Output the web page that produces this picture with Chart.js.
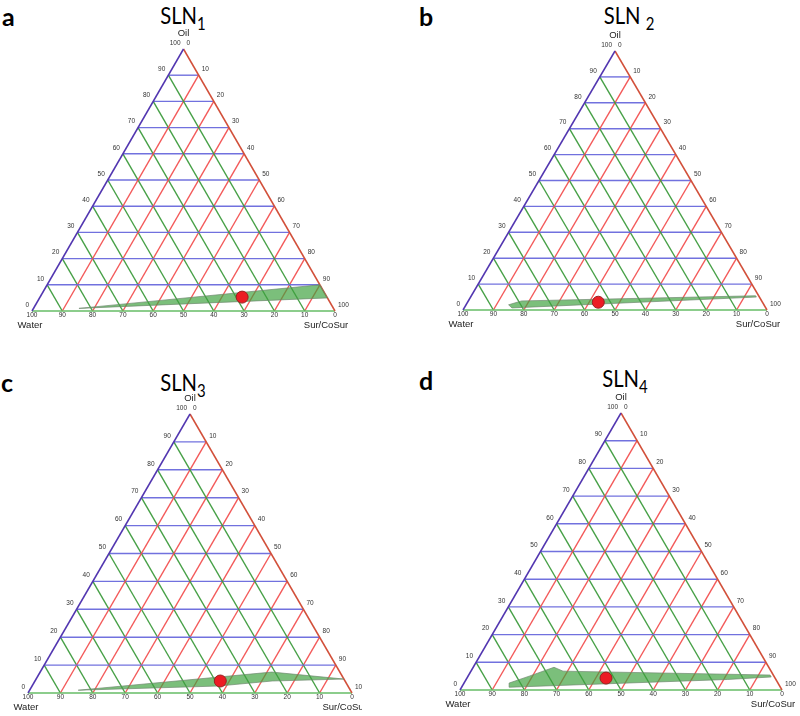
<!DOCTYPE html>
<html>
<head>
<meta charset="utf-8">
<script src="https://cdn.jsdelivr.net/npm/chart.js@4.4.1/dist/chart.umd.min.js"></script>
<style>
  html, body { margin: 0; padding: 0; background: #fff; }
  body { width: 800px; height: 716px; position: relative; overflow: hidden; }
  .panel { position: absolute; }
  .letter { position: absolute; font-family: Lato, "Open Sans", sans-serif; font-weight: 700; font-size: 25px; line-height: 1; color: #000; }
  .title { position: absolute; font-family: Lato, "Open Sans", sans-serif; font-size: 23px; line-height: 1; color: #000; transform: translateX(-50%) scaleX(0.88); white-space: nowrap; }
  .title sub { font-size: 17px; vertical-align: -6px; }
</style>
</head>
<body>

<div class="letter" style="left:2px; top:4px;">a</div>
<div class="letter" style="left:419px; top:4px;">b</div>
<div class="letter" style="left:1px; top:370px;">c</div>
<div class="letter" style="left:419px; top:368px;">d</div>

<div class="title" style="left:183px; top:4px;">SLN<sub>1</sub></div>
<div class="title" style="left:629px; top:4px;">SLN <sub>2</sub></div>
<div class="title" style="left:183px; top:371px;">SLN<sub>3</sub></div>
<div class="title" style="left:625px; top:367px;">SLN<sub>4</sub></div>

<div class="panel" id="boxA" style="left:0; top:0; width:400px; height:330px;"><canvas id="chartA"></canvas></div>
<div class="panel" id="boxB" style="left:400px; top:0; width:400px; height:330px;"><canvas id="chartB"></canvas></div>
<div class="panel" id="boxC" style="left:0; top:330px; width:362px; height:386px;"><canvas id="chartC"></canvas></div>
<div class="panel" id="boxD" style="left:400px; top:330px; width:400px; height:386px;"><canvas id="chartD"></canvas></div>

<script>
// Tick values on each side of the triangles (percent)
const TICKS = [0, 10, 20, 30, 40, 50, 60, 70, 80, 90, 100];
const GRID_STEPS = [10, 20, 30, 40, 50, 60, 70, 80, 90];

// Axis titles
const TOP_TITLE = 'Oil';
const LEFT_TITLE = 'Water';
const RIGHT_TITLES = ['Sur/CoSur', 'Sur/CoSur', 'Sur/CoSu', 'Sur/CoSur'];

// Nanoemulsion regions, as [water, oil, sur/cosur] in percent
const regionA = [[84, 1, 15], [0, 10, 90], [0, 5, 95], [84, 1, 15]];
const regionB = [[84, 2, 14], [79, 3.5, 17.5], [1, 5.5, 93.5], [1, 5, 94], [83.5, 0.8, 15.7], [84, 2, 14]];
const regionC = [[84, 1, 15], [21, 7.5, 71.5], [0, 5, 95], [22.5, 4.3, 73.2], [40, 2.5, 57.5], [84, 1, 15]];
const regionD = [[84, 1, 15], [83.5, 2.5, 14], [76, 5, 19], [66.7, 8.2, 25.1], [64.6, 6.8, 28.6], [1, 5.4, 93.6], [1, 4.7, 94.3], [15, 3.8, 81.2], [84, 1, 15]];

// Selected formulations [water, oil, sur/cosur]
const pointA = [28, 5.3, 66.7];
const pointB = [54, 3, 43];
const pointC = [38.5, 4.3, 57.2];
const pointD = [52.5, 4.3, 43.2];

const H = Math.sqrt(3) / 2;

// Colors
const BLUE_GRID = 'rgba(105, 105, 220, 0.95)';
const GREEN_GRID = 'rgba(60, 155, 60, 0.95)';
const RED_GRID = 'rgba(242, 80, 80, 0.95)';
const LEFT_EDGE = '#5236b0';
const RIGHT_EDGE = '#d2503a';
const BOTTOM_EDGE = '#66bd66';

/**
 * Convert a ternary composition [water, oil, sur] into plot x/y
 */
function toXY(c) {
    const oil = c[1] / 100;
    const sur = c[2] / 100;
    return { x: sur + oil / 2, y: oil * H };
}

function lineSet(points, color, width, order) {
    return {
        data: points.map(toXY),
        showLine: true,
        borderColor: color,
        borderWidth: width,
        pointRadius: 0,
        fill: false,
        clip: 12,
        order: order
    };
}

// Draws tick labels and axis titles around the triangle
const ternaryLabels = {
    id: 'ternaryLabels',
    afterDatasetsDraw(chart, args, opts) {
        const { ctx, scales } = chart;
        const px = c => {
            const p = toXY(c);
            return { x: scales.x.getPixelForValue(p.x), y: scales.y.getPixelForValue(p.y) };
        };
        ctx.save();
        ctx.fillStyle = '#333';
        ctx.font = '6.5px "Liberation Sans", Arial, sans-serif';
        ctx.textBaseline = 'middle';

        // left side: oil 0 (bottom) .. 100 (top)
        ctx.textAlign = 'right';
        TICKS.forEach(v => {
            const p = px([100 - v, v, 0]);
            ctx.fillText(String(v), p.x - 3, p.y - 6);
        });
        // right side: sur 0 (top) .. 100 (bottom)
        ctx.textAlign = 'left';
        TICKS.forEach(v => {
            const p = px([0, 100 - v, v]);
            ctx.fillText(String(v), p.x + 3, p.y - 6);
        });
        // bottom: water 100 (left) .. 0 (right)
        ctx.textAlign = 'center';
        ctx.textBaseline = 'top';
        TICKS.forEach(v => {
            const p = px([v, 0, 100 - v]);
            ctx.fillText(String(v), p.x, p.y + 1);
        });

        ctx.fillStyle = '#222';
        ctx.font = '9.5px "Liberation Sans", Arial, sans-serif';
        ctx.textBaseline = 'middle';
        const top = px([0, 100, 0]);
        ctx.fillText(TOP_TITLE, top.x, top.y - 16);
        const left = px([100, 0, 0]);
        ctx.fillText(LEFT_TITLE, left.x - 2, left.y + 14);
        const right = px([0, 0, 100]);
        ctx.fillText(opts.rightTitle, right.x - 9, right.y + 14);
        ctx.restore();
    }
};

function makePanel(canvasId, pad, region, point, rightTitle) {
    const datasets = [];

    // grid lines
    GRID_STEPS.forEach(v => {
        datasets.push(lineSet([[100 - v, v, 0], [0, v, 100 - v]], BLUE_GRID, 1.4, 5));
        datasets.push(lineSet([[v, 100 - v, 0], [v, 0, 100 - v]], GREEN_GRID, 1.4, 5));
        datasets.push(lineSet([[0, 100 - v, v], [100 - v, 0, v]], RED_GRID, 1.4, 5));
    });

    // triangle edges
    datasets.push(lineSet([[100, 0, 0], [0, 100, 0]], LEFT_EDGE, 1.5, 4));
    datasets.push(lineSet([[0, 100, 0], [0, 0, 100]], RIGHT_EDGE, 1.5, 4));
    datasets.push(lineSet([[100, 0, 0], [0, 0, 100]], BOTTOM_EDGE, 1.5, 4));

    // nanoemulsion region
    datasets.push({
        data: region.map(toXY),
        showLine: true,
        borderColor: 'rgba(110, 135, 110, 0.85)',
        borderWidth: 0.8,
        backgroundColor: 'rgba(60, 160, 60, 0.68)',
        fill: 'shape',
        pointRadius: 0,
        clip: 12,
        order: 2
    });

    // selected formulation
    datasets.push({
        data: [toXY(point)],
        pointRadius: 6,
        pointBackgroundColor: '#ec1c24',
        pointBorderColor: '#9a2020',
        pointBorderWidth: 1,
        clip: 12,
        order: 1
    });

    return new Chart(document.getElementById(canvasId), {
        type: 'scatter',
        data: { datasets: datasets },
        options: {
            responsive: true,
            maintainAspectRatio: false,
            animation: false,
            events: [],
            layout: { padding: pad },
            scales: {
                x: { type: 'linear', min: 0, max: 1, display: false },
                y: { type: 'linear', min: 0, max: H, display: false }
            },
            plugins: {
                legend: { display: false },
                tooltip: { enabled: false },
                ternaryLabels: { rightTitle: rightTitle }
            }
        },
        plugins: [ternaryLabels]
    });
}

makePanel('chartA', { left: 32, right: 65, top: 49, bottom: 19 }, regionA, pointA, RIGHT_TITLES[0]);
makePanel('chartB', { left: 63, right: 33, top: 51, bottom: 20 }, regionB, pointB, RIGHT_TITLES[1]);
makePanel('chartC', { left: 28, right: 10, top: 84, bottom: 23 }, regionC, pointC, RIGHT_TITLES[2]);
makePanel('chartD', { left: 60, right: 18, top: 83, bottom: 26 }, regionD, pointD, RIGHT_TITLES[3]);
</script>
</body>
</html>
